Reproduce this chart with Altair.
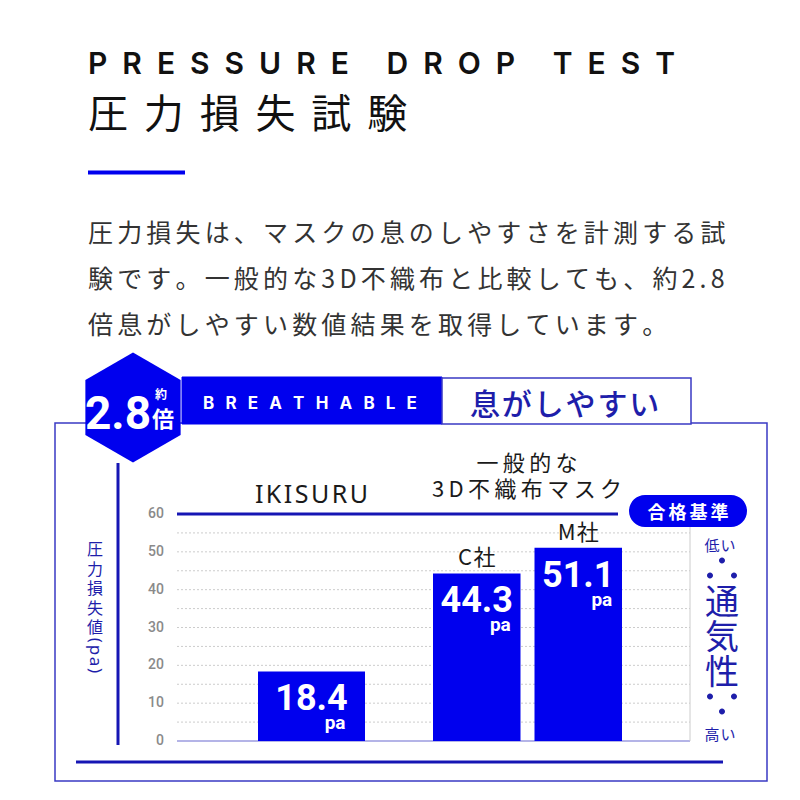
import altair as alt
import pandas as pd

# ---------------- data ----------------
companies = ["IKISURU", "C社", "M社"]
groups = ["IKISURU", "一般的な3D不織布マスク", "一般的な3D不織布マスク"]
values = [18.4, 44.3, 51.1]
unit = "pa"
y_ticks = [0, 10, 20, 30, 40, 50, 60]
y_grid = [5, 10, 15, 20, 25, 30, 35, 40, 45, 50, 55]
y_max = 60

title_en = "PRESSURE DROP TEST"
title_ja = "圧力損失試験"
paragraph = [
    "圧力損失は、マスクの息のしやすさを計測する試",
    "験です。一般的な3D不織布と比較しても、約2.8",
    "倍息がしやすい数値結果を取得しています。",
]
badge_num = "2.8"
badge_small = "約"
badge_unit = "倍"
band_en = "BREATHABLE"
band_ja = "息がしやすい"
y_title = ["圧", "力", "損", "失", "値"]
y_title_unit = "(pa)"
group_label_lines = ["一般的な", "3D不織布マスク"]
standard_label = "合格基準"
right_top = "低い"
right_mid = ["通", "気", "性"]
right_bottom = "高い"

# ---------------- spacing helpers (tracking emulated with Unicode spaces) ----
EN_SP = "\u2002"     # 0.5em
THREE_SP = "\u2004"  # 0.333em
SIX_SP = "\u2006"    # 0.167em
THIN_SP = "\u2009"   # 0.2em
HAIR_SP = "\u200a"   # ~0.1em

def track(s, gap):
    return gap.join(list(s))

df = pd.DataFrame({"company": companies, "group": groups, "value": values,
                   "unit": [unit] * len(companies)})
df["label"] = [track(c, HAIR_SP) for c in companies]

# ---------------- style ----------------
BLUE = "#0000ee"
LINE = "#1616b4"
FRAME = "#3a3ac4"
TBLUE = "#1e1eaa"
JP = "Noto Sans CJK JP"
NUM = "Roboto"
EN = "Inter, Lato, sans-serif"

def P(v):
    return v - 8

one = pd.DataFrame({"d": [0]})
base = alt.Chart(one)

def txt(text, x, y, size, color, font=JP, weight="normal", align="left",
        baseline="alphabetic", angle=0, lh=None):
    kw = dict(align=align, baseline=baseline, fontSize=size, font=font,
              fontWeight=weight, color=color, angle=angle, lineBreak="\n")
    if lh is not None:
        kw["lineHeight"] = lh
    return base.mark_text(**kw).encode(x=alt.value(P(x)), y=alt.value(P(y)),
                                       text=alt.value(text))

def rect(x1, x2, y1, y2, **kw):
    return base.mark_rect(**kw).encode(x=alt.value(P(x1)), x2=alt.value(P(x2)),
                                       y=alt.value(P(y1)), y2=alt.value(P(y2)))

def hrule(x1, x2, y, color, w):
    return base.mark_rule(color=color, strokeWidth=w).encode(
        x=alt.value(P(x1)), x2=alt.value(P(x2)), y=alt.value(P(y)))

def vrule(x, y1, y2, color, w):
    return base.mark_rule(color=color, strokeWidth=w).encode(
        x=alt.value(P(x)), y=alt.value(P(y1)), y2=alt.value(P(y2)))

def symbol(path, x, y, size, color):
    return base.mark_point(shape=path, size=size, filled=True, color=color,
                           opacity=1, strokeWidth=0).encode(
        x=alt.value(P(x)), y=alt.value(P(y)))

def dots_path(pts, r=0.2):
    parts = []
    for (cx, cy) in pts:
        parts.append(f"M{cx - r},{cy}a{r},{r} 0 1,0 {2 * r},0a{r},{r} 0 1,0 {-2 * r},0Z")
    return "".join(parts)

yscale = alt.Scale(domain=[0, y_max], range=[P(741), P(514)], nice=False, zero=True)
Y = alt.Y("value:Q", scale=yscale, axis=None)

HEX = "M0,-1L0.866,-0.5L0.866,0.5L0,1L-0.866,0.5L-0.866,-0.5Z"
DOTS_UP = dots_path([(0, -0.5), (-0.8, 0.5), (0.8, 0.5)])
DOTS_DOWN = dots_path([(-0.8, -0.5), (0.8, -0.5), (0, 0.5)])

layers = []
# outer frame
layers.append(rect(55, 767, 423, 781, fill="white", stroke=FRAME, strokeWidth=1.5))
# header
layers.append(txt(track(title_en, EN_SP), 88, 74, 30, "#111111", font=EN, weight=600))
layers.append(txt(track(title_ja, THREE_SP + HAIR_SP), 88, 128, 40, "#111111"))
layers.append(hrule(88, 185, 172.5, BLUE, 4))
layers.append(txt("\n".join(track(l, SIX_SP) for l in paragraph), 88, 242, 25,
                  "#333333", lh=46))
# band
layers.append(rect(182, 442, 377, 424, fill=BLUE, stroke=BLUE, strokeWidth=1))
layers.append(rect(442, 691, 378, 424, fill="white", stroke=FRAME, strokeWidth=1.5))
layers.append(txt(track(band_en, EN_SP + THIN_SP), 203, 409, 17, "white", font=EN,
                  weight=700))
layers.append(txt(track(band_ja, HAIR_SP), 470, 415, 30, TBLUE, weight=500))
# hexagon badge
layers.append(symbol(HEX, 133, 407.5, 12100, BLUE))
layers.append(txt(badge_num, 118, 429, 46, "white", font=NUM, weight="bold",
                  align="center"))
layers.append(txt(badge_small, 161, 399, 12, "white", weight="bold", align="center"))
layers.append(txt(badge_unit, 163, 427, 22, "white", weight="bold", align="center"))
# inner thick lines
layers.append(vrule(118, 463, 745, LINE, 3))
layers.append(hrule(76, 723, 762, LINE, 3))
# y title
layers.append(txt("\n".join(y_title), 95, 542, 16, TBLUE, align="center",
                  baseline="top", lh=19.6))
layers.append(txt(track(y_title_unit, HAIR_SP), 95, 655.5, 17, TBLUE,
                  font="Noto Sans, sans-serif", align="center", baseline="middle",
                  angle=90))

# grid
grid_df = pd.DataFrame({"value": y_grid})
layers.append(alt.Chart(grid_df).mark_rule(color="#cccccc", strokeWidth=1,
                                           strokeDash=[2, 2]).encode(
    y=Y, x=alt.value(P(177)), x2=alt.value(P(690))))
layers.append(alt.Chart(pd.DataFrame({"value": [0]})).mark_rule(
    color="#6a6ad0", strokeWidth=1.2).encode(y=Y, x=alt.value(P(177)), x2=alt.value(P(690))))
layers.append(alt.Chart(pd.DataFrame({"value": [0], "v2": [y_max]})).mark_rule(
    color="#cccccc", strokeWidth=1).encode(y=Y, y2="v2:Q", x=alt.value(P(690))))
layers.append(alt.Chart(pd.DataFrame({"value": [y_max]})).mark_rule(
    color=LINE, strokeWidth=3).encode(y=Y, x=alt.value(P(177)), x2=alt.value(P(618))))
# tick labels
tick_df = pd.DataFrame({"value": y_ticks})
layers.append(alt.Chart(tick_df).mark_text(align="right", baseline="middle", fontSize=14,
                                           font=NUM, fontWeight=500,
                                           color="#8a8a8a").encode(
    y=Y, x=alt.value(P(164)), text=alt.Text("value:Q", format="d")))

NUM_SIZE = 36
NUM_DY = 39
PA_SIZE = 19
PA_DY = 58
PA_DX = 34

# bars: IKISURU
xA = alt.X("company:N", axis=None,
           scale=alt.Scale(domain=companies[:1], range=[P(258), P(365)],
                           paddingInner=0, paddingOuter=0))
baseA = alt.Chart(df).transform_filter(alt.datum.group == groups[0])
layerA = alt.layer(
    baseA.mark_bar(color=BLUE).encode(x=xA, y=Y),
    baseA.mark_text(font=NUM, fontWeight="bold", fontSize=NUM_SIZE, color="white",
                    align="center", baseline="alphabetic", dy=NUM_DY).encode(
        x=xA, y=Y, text=alt.Text("value:Q", format=".1f")),
    baseA.mark_text(font=NUM, fontWeight="bold", fontSize=PA_SIZE, color="white",
                    align="right", baseline="alphabetic", dx=PA_DX, dy=PA_DY).encode(
        x=xA, y=Y, text="unit:N"),
    baseA.mark_text(font="Noto Sans, sans-serif", fontSize=25, color="#1a1a1a",
                    align="center", baseline="alphabetic").encode(
        x=xA, y=alt.value(P(503)), text="label:N"),
)
# bars: competitors
xB = alt.X("company:N", axis=None,
           scale=alt.Scale(domain=companies[1:], range=[P(433), P(622)],
                           paddingInner=0.138, paddingOuter=0))
baseB = alt.Chart(df).transform_filter(alt.datum.group == groups[1])
layerB = alt.layer(
    baseB.mark_bar(color=BLUE).encode(x=xB, y=Y),
    baseB.mark_text(font=NUM, fontWeight="bold", fontSize=NUM_SIZE, color="white",
                    align="center", baseline="alphabetic", dy=NUM_DY).encode(
        x=xB, y=Y, text=alt.Text("value:Q", format=".1f")),
    baseB.mark_text(font=NUM, fontWeight="bold", fontSize=PA_SIZE, color="white",
                    align="right", baseline="alphabetic", dx=PA_DX, dy=PA_DY).encode(
        x=xB, y=Y, text="unit:N"),
    baseB.mark_text(font=JP, fontSize=22, color="#1a1a1a", align="center",
                    baseline="alphabetic", dy=-8).encode(
        x=xB, y=Y, text="label:N"),
)
layers.append(layerA)
layers.append(layerB)

# competitor group label
layers.append(txt("\n".join(track(l, THIN_SP) for l in group_label_lines), 527, 453.5,
                  22, "#1a1a1a", align="center", baseline="top", lh=26))
# standard pill
layers.append(rect(629, 747, 495, 527, fill=BLUE, cornerRadius=16))
layers.append(txt(track(standard_label, SIX_SP), 688, 519, 18, "white", weight="bold",
                  align="center"))
# right side
layers.append(txt(track(right_top, HAIR_SP), 720, 551, 15, TBLUE, align="center"))
layers.append(symbol(DOTS_UP, 722, 568, 900, TBLUE))
layers.append(txt("\n".join(right_mid), 722, 587, 34, TBLUE, weight=400,
                  align="center", baseline="top", lh=35))
layers.append(symbol(DOTS_DOWN, 722, 704, 900, TBLUE))
layers.append(txt(track(right_bottom, HAIR_SP), 720, 740, 15, TBLUE, align="center"))

chart = alt.layer(*layers).resolve_scale(x="independent").properties(
    width=784, height=784, padding=0, autosize="none"
).configure_view(stroke=None)

chart.save("out.html", embed_options={"renderer": "svg", "actions": False})
